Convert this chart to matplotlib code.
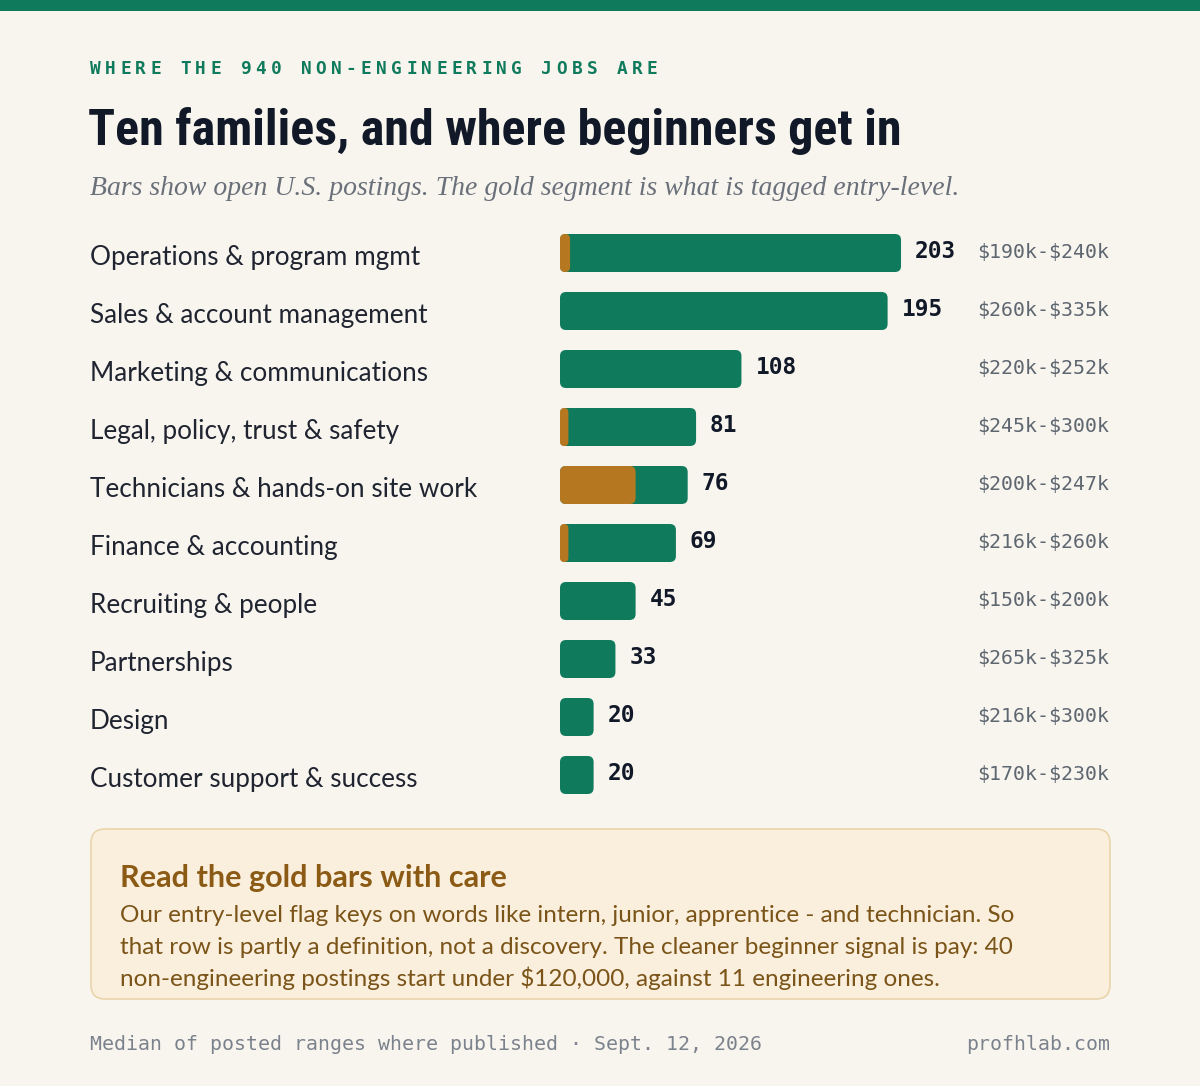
import matplotlib
matplotlib.use("Agg")
import matplotlib.pyplot as plt
from matplotlib import font_manager
from matplotlib.patches import FancyBboxPatch, Rectangle
import matplotlib.transforms as mtrans

# ---------------- data ----------------
categories = [
    "Operations & program mgmt",
    "Sales & account management",
    "Marketing & communications",
    "Legal, policy, trust & safety",
    "Technicians & hands-on site work",
    "Finance & accounting",
    "Recruiting & people",
    "Partnerships",
    "Design",
    "Customer support & success",
]
total_postings = [203, 195, 108, 81, 76, 69, 45, 33, 20, 20]
entry_level = [6, 0, 0, 5, 45, 5, 0, 0, 0, 0]
salary_ranges = [
    "$190k-$240k", "$260k-$335k", "$220k-$252k", "$245k-$300k", "$200k-$247k",
    "$216k-$260k", "$150k-$200k", "$265k-$325k", "$216k-$300k", "$170k-$230k",
]

kicker = "WHERE THE 940 NON-ENGINEERING JOBS ARE"
title = "Ten families, and where beginners get in"
subtitle = "Bars show open U.S. postings. The gold segment is what is tagged entry-level."
note_head = "Read the gold bars with care"
note_lines = [
    "Our entry-level flag keys on words like intern, junior, apprentice - and technician. So",
    "that row is partly a definition, not a discovery. The cleaner beginner signal is pay: 40",
    "non-engineering postings start under $120,000, against 11 engineering ones.",
]
footer_left = "Median of posted ranges where published \u00b7 Sept. 12, 2026"
footer_right = "profhlab.com"

# ---------------- style ----------------
BG = "#F8F5EF"
GREEN = "#0F7B5C"
GOLD = "#B57820"
DARK = "#111827"
LABEL = "#1F2430"
GRAY = "#5E6670"
FOOT = "#7B828C"
NOTE_FILL = "#FAEEDC"
NOTE_EDGE = "#EAD5AC"
NOTE_HEAD = "#8B5A14"
NOTE_BODY = "#7A5418"

names = {f.name for f in font_manager.fontManager.ttflist}


def pick(*cands, default="DejaVu Sans"):
    for c in cands:
        if c in names:
            return c
    return default


title_font = pick("Roboto Condensed", "Liberation Sans Narrow", "DejaVu Sans Condensed",
                  "Open Sans Condensed", "Roboto")
title_stretch = "normal"
if title_font == "Roboto":
    if any(f.name == "DejaVu Sans" and f.stretch == "condensed" for f in font_manager.fontManager.ttflist):
        title_font = "DejaVu Sans"
        title_stretch = "condensed"
sans = pick("Lato", "Noto Sans")
serif = pick("Liberation Serif", "DejaVu Serif")
mono = "DejaVu Sans Mono"

W, H = 1200, 1086
fig = plt.figure(figsize=(W / 100, H / 100), dpi=100)
fig.patch.set_facecolor(BG)

# background axes in pixel coordinates (y downwards)
bg = fig.add_axes([0, 0, 1, 1], zorder=0)
bg.set_xlim(0, W)
bg.set_ylim(H, 0)
bg.axis("off")
bg.add_patch(Rectangle((0, 0), W, 11, fc=GREEN, ec="none"))

renderer = fig.canvas.get_renderer()


def fit(t, width_px):
    bb = t.get_window_extent(renderer)
    t.set_fontsize(t.get_fontsize() * width_px / bb.width)
    return t.get_fontsize()


# kicker with letter spacing
pitch = 15.05
for k, ch in enumerate(kicker):
    bg.text(90 + k * pitch, 74, ch, family=mono, weight="bold", fontsize=12.8,
            color=GREEN, va="baseline", ha="left", parse_math=False)

t_title = bg.text(88, 145, title, family=title_font, fontstretch=title_stretch,
                  weight="bold", fontsize=40, color=DARK, va="baseline", ha="left",
                  parse_math=False)
fit(t_title, 813)

t_sub = bg.text(90, 195, subtitle, family=serif, style="italic", fontsize=18,
                color="#6A7079", va="baseline", ha="left", parse_math=False)
fit(t_sub, 869)

# ---------------- bars ----------------
ax = fig.add_axes([560 / W, 1 - 804 / H, 504 / W, 580 / H], zorder=2)
ax.set_xlim(0, 300)
ax.set_ylim(9.5, -0.5)
ax.axis("off")
ax.patch.set_alpha(0)

px_x = 504 / 300.0   # pixels per count
px_y = 58.0          # pixels per row
bar_h = 38 / px_y
rad = 6 / px_x
aspect = px_x / px_y

for i, (v, e) in enumerate(zip(total_postings, entry_level)):
    ax.add_patch(FancyBboxPatch((0, i - bar_h / 2), v, bar_h,
                                boxstyle=f"round,pad=0,rounding_size={min(rad, v / 2)}",
                                mutation_aspect=aspect, fc=GREEN, ec="none"))
    if e > 0:
        ax.add_patch(FancyBboxPatch((0, i - bar_h / 2), e, bar_h,
                                    boxstyle=f"round,pad=0,rounding_size={min(rad, e / 2)}",
                                    mutation_aspect=aspect, fc=GOLD, ec="none"))
    ax.annotate(str(v), xy=(v, i), xytext=(14, -5), textcoords="offset pixels",
                family=mono, weight="bold", fontsize=16.4, color=DARK,
                va="baseline", ha="left")

blend = mtrans.blended_transform_factory(fig.transFigure, ax.transData)
lab_tr = mtrans.offset_copy(blend, fig=fig, x=0, y=-12, units="dots")
sal_tr = mtrans.offset_copy(blend, fig=fig, x=0, y=-5, units="dots")

lab_objs = []
for i, cat in enumerate(categories):
    lab_objs.append(ax.text(90 / W, i, cat, transform=lab_tr, family=sans, fontsize=17,
                            color=LABEL, va="baseline", ha="left", parse_math=False))
lab_size = fit(lab_objs[0], 329)
for t in lab_objs:
    t.set_fontsize(lab_size)

for i, s in enumerate(salary_ranges):
    ax.text(1109 / W, i, s, transform=sal_tr, family=mono, fontsize=14.3,
            color=GRAY, va="baseline", ha="right", parse_math=False)

# ---------------- note box ----------------
bg.add_patch(FancyBboxPatch((91, 829), 1019, 170, boxstyle="round,pad=0,rounding_size=14",
                            fc=NOTE_FILL, ec=NOTE_EDGE, lw=1.2))
t_head = bg.text(120, 887, note_head, family=sans, weight="bold", fontsize=20,
                 color=NOTE_HEAD, va="baseline", ha="left", parse_math=False)
fit(t_head, 388)
body = []
for j, line in enumerate(note_lines):
    body.append(bg.text(120, 922 + 32 * j, line, family=sans, fontsize=16,
                        color=NOTE_BODY, va="baseline", ha="left", parse_math=False))
bs = fit(body[0], 900)
for t in body:
    t.set_fontsize(bs)

# ---------------- footer ----------------
bg.text(90, 1050, footer_left, family=mono, fontsize=14.3, color=FOOT,
        va="baseline", ha="left", parse_math=False)
bg.text(1110, 1050, footer_right, family=mono, fontsize=14.3, color=FOOT,
        va="baseline", ha="right", parse_math=False)

fig.savefig("out.png", dpi=100, facecolor=BG)
